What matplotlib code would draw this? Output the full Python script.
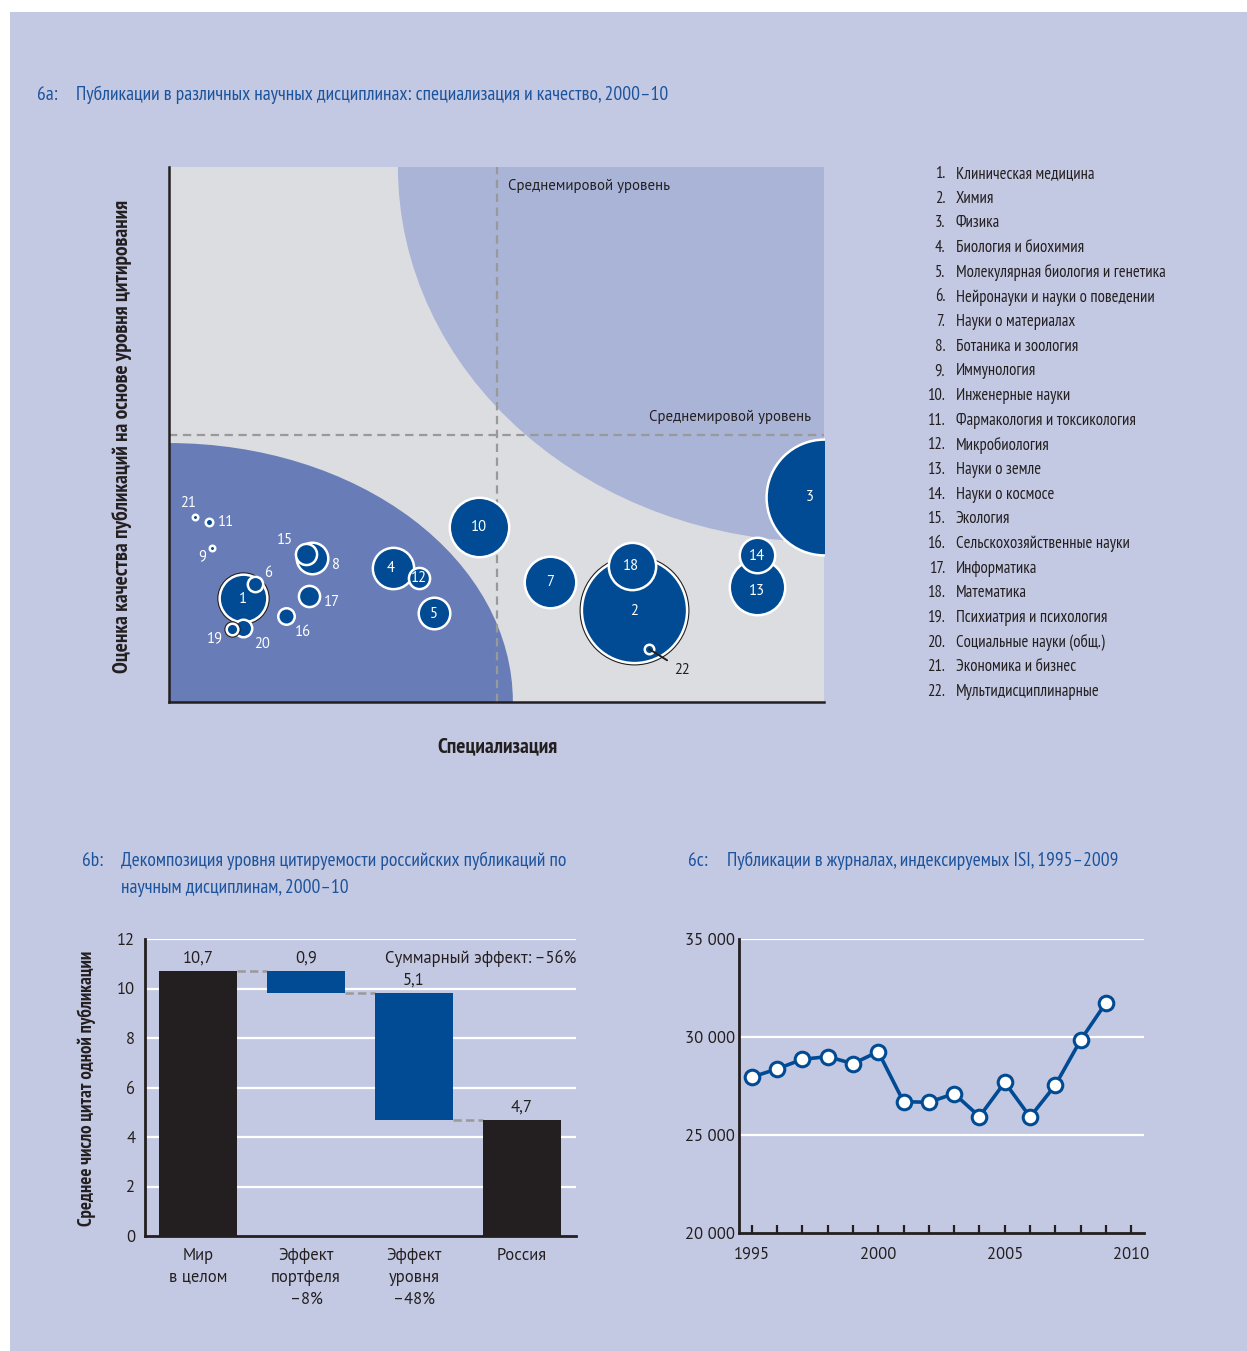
import matplotlib
matplotlib.use("Agg")
import numpy as np
import matplotlib.pyplot as plt
from matplotlib.patches import Ellipse, Rectangle

W, H = 1247, 1351

# --- 6a: disciplines (specialization vs citation quality, 1 = world average) ---
disc_id = list(range(1, 23))
disc_names = [
    "Клиническая медицина", "Химия", "Физика", "Биология и биохимия",
    "Молекулярная биология и генетика", "Нейронауки и науки о поведении",
    "Науки о материалах", "Ботаника и зоология", "Иммунология",
    "Инженерные науки", "Фармакология и токсикология", "Микробиология",
    "Науки о земле", "Науки о космосе", "Экология",
    "Сельскохозяйственные науки", "Информатика", "Математика",
    "Психиатрия и психология", "Социальные науки (общ.)",
    "Экономика и бизнес", "Мультидисциплинарные",
]
spec = [0.226, 1.420, 2.000, 0.684, 0.809, 0.263, 1.163, 0.437, 0.131, 0.947, 0.122,
        0.763, 1.795, 1.795, 0.418, 0.357, 0.427, 1.414, 0.192, 0.226, 0.079, 1.466]
quality = [0.389, 0.344, 0.766, 0.501, 0.333, 0.441, 0.449, 0.538, 0.576, 0.654, 0.673,
           0.464, 0.430, 0.550, 0.553, 0.321, 0.396, 0.508, 0.273, 0.277, 0.692, 0.198]
pubs = [63, 290, 350, 48, 29, 8, 73, 29, 1.6, 96, 2.5,
        14, 84, 36, 14, 9, 14, 62, 5, 10, 1.6, 3.6]

# --- 6b: decomposition of citations per paper ---
wf_labels = ["Мир\nв целом", "Эффект\nпортфеля\n–8%", "Эффект\nуровня\n–48%", "Россия"]
wf_values = [10.7, -0.9, -5.1, 4.7]
wf_text = ["10,7", "0,9", "5,1", "4,7"]

# --- 6c: publications in ISI journals ---
years = list(range(1995, 2010))
papers = [27950, 28370, 28860, 29000, 28640, 29250, 26700, 26670,
          27110, 25940, 27690, 25920, 27550, 29850, 31750]

PANEL = "#C4C9E3"
DARK = "#004B93"
TITLE = "#1B539C"
INK = "#231F20"
NARROW = "PT Sans Narrow"
REG = "PT Sans"
plt.rcParams["lines.scale_dashes"] = False
plt.rcParams["font.family"] = REG


def fx(px):
    return px / W


def fy(py):
    return 1 - py / H


def box(l, t, r, b):
    return [fx(l), fy(b), (r - l) / W, (b - t) / H]


fig = plt.figure(figsize=(W / 100, H / 100), dpi=100, facecolor="white")
fig.patches.append(Rectangle((fx(10), 0), 1 - fx(10), fy(12), transform=fig.transFigure,
                             facecolor=PANEL, edgecolor="none", zorder=-10))

# ---------------- 6a bubble chart ----------------
fig.text(fx(37), fy(95), "6a:", color=TITLE, family=NARROW, fontsize=14, va="center")
fig.text(fx(76), fy(95), "Публикации в различных научных дисциплинах: специализация и качество, 2000–10",
         color=TITLE, family=NARROW, fontsize=14, va="center")

ax = fig.add_axes(box(169, 167, 824, 702))
ax.set_xlim(0, 2)
ax.set_ylim(0, 2)
ax.set_facecolor("#DCDDE0")
ax.add_patch(Ellipse((0, 0), 2 * 1.050, 2 * 0.968, facecolor="#687DB7", edgecolor="none", zorder=1))
ax.add_patch(Ellipse((2, 2), 2 * 1.301, 2 * 1.402, facecolor="#A9B4D6", edgecolor="none", zorder=1))
ax.axvline(1, color="#999999", lw=1.6, dashes=(6, 4), zorder=2)
ax.axhline(1, color="#999999", lw=1.6, dashes=(6, 4), zorder=2)
ax.text(1.035, 1.93, "Среднемировой уровень", fontsize=10.7, color=INK, va="center")
ax.text(1.96, 1.065, "Среднемировой уровень", fontsize=10.7, color=INK, va="center", ha="right")

edge = 1.8
outlined = {1, 2, 19}
order = np.argsort(pubs)[::-1]
for z, i in enumerate(order):
    d = 2 * np.sqrt(10 * pubs[i]) * 0.72 - edge
    if disc_id[i] in outlined:
        ax.scatter(spec[i], quality[i], s=(d + edge + 1.6) ** 2, color=INK, lw=0, zorder=5 + 2 * z)
    ax.scatter(spec[i], quality[i], s=d ** 2, color=DARK, edgecolor="white", lw=edge,
               zorder=6 + 2 * z)

inside = {1: (0, -1), 2: (0, -1), 3: (-10, 0), 4: (-2, 0), 5: (0, -1), 7: (0, 0),
          10: (0, 0), 12: (0, 0), 13: (0, -3), 14: (0, -1), 18: (-1, 0)}
outside = {21: (-5, 10), 11: (12, 0), 9: (-7, -6), 15: (-15, 10), 8: (17, -5), 6: (9, 8),
           17: (17, -4), 16: (12, -11.5), 19: (-12, -6.5), 20: (14, -11.5)}
for i, n in enumerate(disc_id):
    if n in inside:
        ax.annotate(str(n), (spec[i], quality[i]), xytext=inside[n], textcoords="offset points",
                    ha="center", va="center", color="white", fontsize=10.5, zorder=100)
    elif n in outside:
        ax.annotate(str(n), (spec[i], quality[i]), xytext=outside[n], textcoords="offset points",
                    ha="center", va="center", color="white", fontsize=10.5, zorder=100)
i22 = disc_id.index(22)
ax.annotate("22", (spec[i22], quality[i22]), xytext=(24, -15), textcoords="offset points",
            ha="center", va="center", color=INK, fontsize=10.5, zorder=100,
            arrowprops=dict(arrowstyle="-", color=INK, lw=1.4, shrinkA=4, shrinkB=0))

for s in ["top", "right"]:
    ax.spines[s].set_visible(False)
for s in ["left", "bottom"]:
    ax.spines[s].set_linewidth(1.8)
    ax.spines[s].set_color(INK)
    ax.spines[s].set_zorder(200)
ax.set_xticks([])
ax.set_yticks([])

fig.text(fx(122), fy(436), "Оценка качества публикаций на основе уровня цитирования",
         rotation=90, family=NARROW, weight="bold", fontsize=15.5, color=INK, ha="center", va="center")
fig.text(fx(497), fy(747), "Специализация", family=NARROW, weight="bold", fontsize=15.5,
         color=INK, ha="center", va="center")

# legend of disciplines
step = (692 - 174) / 21
for k, (n, name) in enumerate(zip(disc_id, disc_names)):
    y = fy(174 + k * step)
    fig.text(fx(945), y, f"{n}.", family=NARROW, fontsize=12, color=INK, ha="right", va="center")
    fig.text(fx(956), y, name, family=NARROW, fontsize=12, color=INK, ha="left", va="center")

# ---------------- 6b waterfall ----------------
fig.text(fx(82), fy(861), "6b:", color=TITLE, family=NARROW, fontsize=14, va="center")
fig.text(fx(121), fy(861), "Декомпозиция уровня цитируемости российских публикаций по",
         color=TITLE, family=NARROW, fontsize=14, va="center")
fig.text(fx(121), fy(888), "научным дисциплинам, 2000–10",
         color=TITLE, family=NARROW, fontsize=14, va="center")

bx = fig.add_axes(box(145, 939, 576, 1236))
bx.set_facecolor("none")
bx.set_xlim(-0.49, 3.5)
bx.set_ylim(0, 12)
bx.set_yticks(range(0, 13, 2))
for v in range(2, 13, 2):
    bx.axhline(v, color="white", lw=1.6, zorder=1)

running = 0.0
bottoms, heights = [], []
for k, v in enumerate(wf_values):
    if k in (0, len(wf_values) - 1):
        bottoms.append(0.0)
        heights.append(v)
        running = v
    else:
        bottoms.append(running + v)
        heights.append(-v)
        running += v
colors = [INK, DARK, DARK, INK]
xs = np.arange(len(wf_values))
bx.bar(xs, heights, bottom=bottoms, width=0.72, color=colors, zorder=3)

tops = [b + h for b, h in zip(bottoms, heights)]
levels = [tops[0], bottoms[1], bottoms[2]]
for k, lev in enumerate(levels):
    bx.plot([xs[k] + 0.36, xs[k + 1] - 0.36], [lev, lev], color="#9A9A9A", lw=1.8,
            dashes=(6, 3), zorder=2)
label_base = [tops[0], tops[0], tops[2], tops[3]]
for k, t in enumerate(wf_text):
    bx.annotate(t, (xs[k], label_base[k]), xytext=(0, 9), textcoords="offset points",
                ha="center", va="center", fontsize=12, color=INK)
bx.text(3.5, 11.2, "Суммарный эффект: –56%", ha="right", va="center", fontsize=12, color=INK)

bx.set_xticks(xs)
bx.set_xticklabels(wf_labels, fontsize=12, color=INK, linespacing=1.45)
bx.tick_params(axis="x", length=0, pad=9)
bx.tick_params(axis="y", length=0, pad=7, labelsize=12, labelcolor=INK)
for s in ["top", "right"]:
    bx.spines[s].set_visible(False)
for s in ["left", "bottom"]:
    bx.spines[s].set_linewidth(2)
    bx.spines[s].set_color(INK)
    bx.spines[s].set_zorder(10)

fig.text(fx(87), fy(1088), "Среднее число цитат одной публикации", rotation=90, family=NARROW,
         weight="bold", fontsize=13.5, color=INK, ha="center", va="center")

# ---------------- 6c line chart ----------------
fig.text(fx(688), fy(861), "6c:", color=TITLE, family=NARROW, fontsize=14, va="center")
fig.text(fx(727), fy(861), "Публикации в журналах, индексируемых ISI, 1995–2009",
         color=TITLE, family=NARROW, fontsize=14, va="center")

cx = fig.add_axes(box(739, 939, 1144, 1233))
cx.set_facecolor("none")
cx.set_xlim(1994.5, 2010.5)
cx.set_ylim(20000, 35000)
for v in [25000, 30000, 35000]:
    cx.axhline(v, color="white", lw=1.6, zorder=1)
cx.plot(years, papers, color=DARK, lw=2.6, marker="o", ms=10.5, mfc="white", mec=DARK,
        mew=2.2, zorder=5, clip_on=False)
cx.set_yticks([20000, 25000, 30000, 35000])
cx.set_yticklabels(["20 000", "25 000", "30 000", "35 000"])
cx.set_xticks(range(1995, 2011))
cx.set_xticklabels([str(y) if y % 5 == 0 else "" for y in range(1995, 2011)])
cx.tick_params(axis="y", length=0, pad=3, labelsize=12, labelcolor=INK)
cx.tick_params(axis="x", direction="in", length=5.5, width=1.6, color=INK, pad=10,
               labelsize=12, labelcolor=INK)
for s in ["top", "right"]:
    cx.spines[s].set_visible(False)
for s in ["left", "bottom"]:
    cx.spines[s].set_linewidth(2)
    cx.spines[s].set_color(INK)

fig.savefig("out.png", dpi=100, facecolor="white")
